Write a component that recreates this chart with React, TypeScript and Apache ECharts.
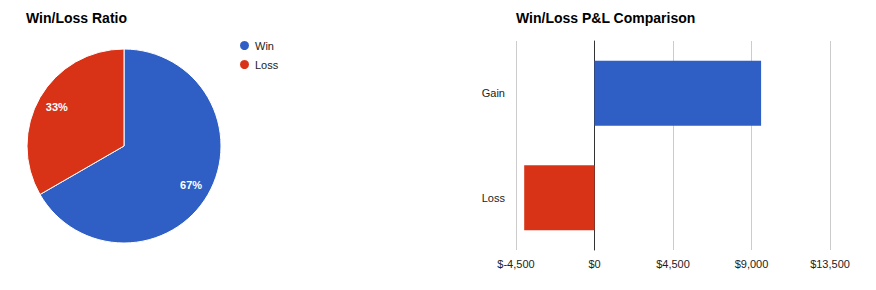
import React, { useEffect, useRef } from "react";
import * as echarts from "echarts";

// Win/loss counts (pie) and P&L totals (bar)
const outcomeNames = ["Win", "Loss"];
const outcomeCounts = [2, 1];
const pnlCategories = ["Gain", "Loss"];
const pnlValues = [9550, -4030];
const pnlTicks = [-4500, 0, 4500, 9000, 13500];

const BLUE = "#2f5ec5";
const RED = "#d83316";
const FONT = 'Arial, "Liberation Sans", sans-serif';

export default function App() {
  const ref = useRef<HTMLDivElement>(null);

  useEffect(() => {
    if (!ref.current) return;
    const chart = echarts.init(ref.current, undefined, { renderer: "svg" });
    const colors = [BLUE, RED];
    const pieData = outcomeNames.map((name, i) => ({
      name,
      value: outcomeCounts[i],
      itemStyle: { color: colors[i] },
    }));

    chart.setOption({
      animation: false,
      textStyle: { fontFamily: FONT },
      title: [
        {
          text: "Win/Loss Ratio",
          left: 26,
          top: 11,
          padding: 0,
          textStyle: { fontSize: 14, fontWeight: "bold", color: "#000", fontFamily: FONT },
        },
        {
          text: "Win/Loss P&L Comparison",
          left: 516,
          top: 11,
          padding: 0,
          textStyle: { fontSize: 14, fontWeight: "bold", color: "#000", fontFamily: FONT },
        },
      ],
      legend: {
        data: outcomeNames,
        orient: "vertical",
        left: 238,
        top: 39,
        padding: 0,
        icon: "circle",
        itemWidth: 11,
        itemHeight: 11,
        itemGap: 6,
        textStyle: { fontSize: 11, color: "#222", fontFamily: FONT },
      },
      grid: {
        left: 516,
        top: 41,
        width: 314,
        height: 209,
        containLabel: false,
      },
      xAxis: {
        type: "value",
        min: pnlTicks[0],
        max: pnlTicks[pnlTicks.length - 1],
        interval: pnlTicks[1] - pnlTicks[0],
        axisLine: { show: false },
        axisTick: { show: false },
        splitLine: { show: true, lineStyle: { color: "#cccccc", width: 1 } },
        axisLabel: {
          fontSize: 11,
          color: "#222",
          margin: 8,
          fontFamily: FONT,
          formatter: (v: number) => "$" + v.toLocaleString("en-US"),
        },
      },
      yAxis: {
        type: "category",
        data: pnlCategories,
        inverse: true,
        axisLine: { show: true, onZero: true, lineStyle: { color: "#333", width: 1 } },
        axisTick: { show: false },
        axisLabel: { fontSize: 11, color: "#222", margin: 11, fontFamily: FONT },
      },
      series: [
        {
          type: "pie",
          name: "ratio",
          center: [124, 146],
          radius: [0, 97],
          startAngle: 90,
          clockwise: true,
          data: pieData,
          itemStyle: { borderColor: "#fff", borderWidth: 1 },
          label: { show: false },
          labelLine: { show: false },
          emphasis: { disabled: true },
        },
        {
          // label carrier ring so percentages sit further out than mid-radius
          type: "pie",
          name: "ratio-labels",
          center: [124, 146],
          radius: [52, 97],
          startAngle: 90,
          clockwise: true,
          silent: true,
          data: outcomeNames.map((name, i) => ({
            name,
            value: outcomeCounts[i],
            itemStyle: { color: "rgba(0,0,0,0)" },
          })),
          label: {
            show: true,
            position: "inside",
            color: "#fff",
            fontSize: 11,
            fontWeight: "bold",
            fontFamily: FONT,
            formatter: (p: any) => Math.round(p.percent) + "%",
          },
          labelLine: { show: false },
          emphasis: { disabled: true },
        },
        {
          type: "bar",
          name: "P&L",
          barWidth: 65,
          data: pnlValues.map((v, i) => ({ value: v, itemStyle: { color: colors[i] } })),
        },
      ],
    });

    return () => chart.dispose();
  }, []);

  return (
    <div
      ref={ref}
      style={{ position: "fixed", left: 0, top: 0, width: 876, height: 290, background: "#fff" }}
    />
  );
}
